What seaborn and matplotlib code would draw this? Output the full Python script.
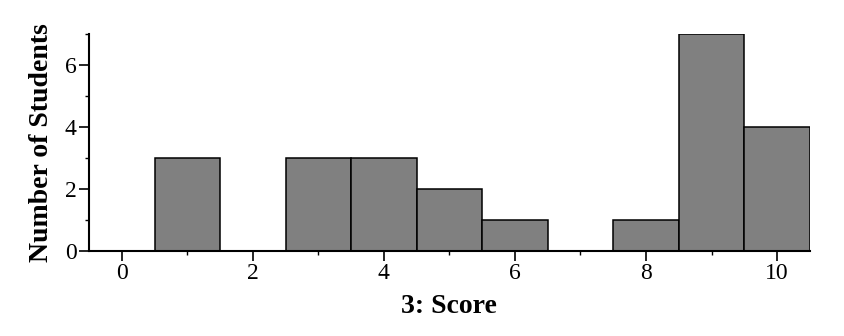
import matplotlib
matplotlib.use("Agg")
import matplotlib.pyplot as plt
import seaborn as sns
import pandas as pd
from matplotlib.ticker import MultipleLocator

scores = [0, 1, 2, 3, 4, 5, 6, 7, 8, 9, 10]
counts = [0, 3, 0, 3, 3, 2, 1, 0, 1, 7, 4]
x_label = "3: Score"
y_label = "Number of Students"

sns.set_style("ticks")
plt.rcParams['font.family'] = ['Liberation Serif', 'DejaVu Serif']
plt.rcParams['text.color'] = 'black'
plt.rcParams['axes.labelcolor'] = 'black'

df = pd.DataFrame({"score": scores, "count": counts})

fig = plt.figure(figsize=(8.44, 3.36), dpi=100)
ax = fig.add_axes([0.1055, 0.253, 0.854, 0.646])
sns.histplot(data=df, x="score", weights="count", discrete=True, ax=ax,
             color="#808080", alpha=1, edgecolor="black", linewidth=1.1)

ax.set_xlim(-0.5, 10.5)
ax.set_ylim(0, 7)
ax.xaxis.set_major_locator(MultipleLocator(2))
ax.xaxis.set_minor_locator(MultipleLocator(1))
ax.yaxis.set_major_locator(MultipleLocator(2))
ax.yaxis.set_minor_locator(MultipleLocator(1))
ax.tick_params(which="major", length=7, width=1.2, labelsize=17, colors="black", direction="out", pad=2)
ax.tick_params(which="minor", length=3, width=1.0, colors="black")
for s in ["top", "right"]:
    ax.spines[s].set_visible(False)
for s in ["left", "bottom"]:
    ax.spines[s].set_linewidth(1.5)
    ax.spines[s].set_color("black")

ax.set_xlabel(x_label, fontsize=20, fontweight="bold", labelpad=7)
ax.set_ylabel(y_label, fontsize=20, fontweight="bold", labelpad=8)

fig.savefig("out.png", dpi=100)
